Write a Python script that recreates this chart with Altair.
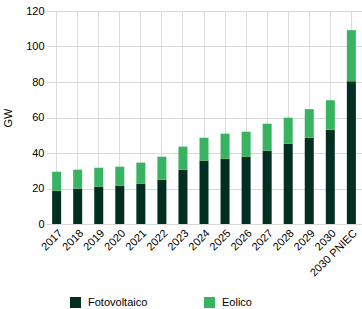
import altair as alt
import pandas as pd

years = ["2017", "2018", "2019", "2020", "2021", "2022", "2023", "2024",
         "2025", "2026", "2027", "2028", "2029", "2030", "2030 PNIEC"]
fotovoltaico = [18.8, 19.9, 21.0, 21.6, 22.7, 25.0, 30.6, 35.7,
                36.8, 37.9, 41.3, 45.3, 48.6, 53.1, 80.4]
eolico_total = [29.5, 30.6, 31.7, 32.3, 34.6, 37.9, 43.6, 48.6,
                50.9, 52.0, 56.5, 59.9, 64.7, 69.7, 109.2]
series = ["Fotovoltaico", "Eolico"]
colors = ["#002e20", "#37b362"]

rows = []
for y, f, t in zip(years, fotovoltaico, eolico_total):
    rows.append({"anno": y, "serie": "Fotovoltaico", "valore": f, "ord": 0})
    rows.append({"anno": y, "serie": "Eolico", "valore": round(t - f, 2), "ord": 1})
df = pd.DataFrame(rows)

font = "Liberation Sans"

chart = alt.Chart(df).mark_bar(size=9).encode(
    x=alt.X("anno:N", sort=years, title=None,
            scale=alt.Scale(paddingInner=0.57, paddingOuter=0.29),
            axis=alt.Axis(labelAngle=-45, domain=False, ticks=False,
                          labelPadding=3, labelFontSize=11, labelColor="#000000",
                          labelFont=font)),
    y=alt.Y("valore:Q", stack="zero", title="GW",
            scale=alt.Scale(domain=[0, 120]),
            axis=alt.Axis(values=[0, 20, 40, 60, 80, 100, 120], domain=False,
                          ticks=False, labelPadding=2, labelFontSize=11,
                          labelColor="#000000", labelFont=font,
                          titleFontSize=11, titleFont=font, titleFontWeight="normal",
                          titleColor="#000000", titlePadding=12,
                          gridColor="#d9d9d9")),
    color=alt.Color("serie:N", sort=series,
                    scale=alt.Scale(domain=series, range=colors),
                    legend=alt.Legend(title=None, orient="none", direction="horizontal",
                                      legendX=24, legendY=286, symbolType="square",
                                      symbolSize=121, symbolStrokeWidth=0,
                                      labelFontSize=11, labelFont=font,
                                      labelColor="#000000", columnPadding=56,
                                      labelOffset=7, padding=0)),
    order=alt.Order("ord:Q"),
).properties(
    width=316, height=213,
    autosize=alt.AutoSizeParams(type="none"),
    padding={"left": 46, "top": 11, "right": 0, "bottom": 85},
).configure_view(stroke=None).configure_axis(grid=True)

chart.save("out.html", embed_options={"renderer": "svg", "actions": False})
